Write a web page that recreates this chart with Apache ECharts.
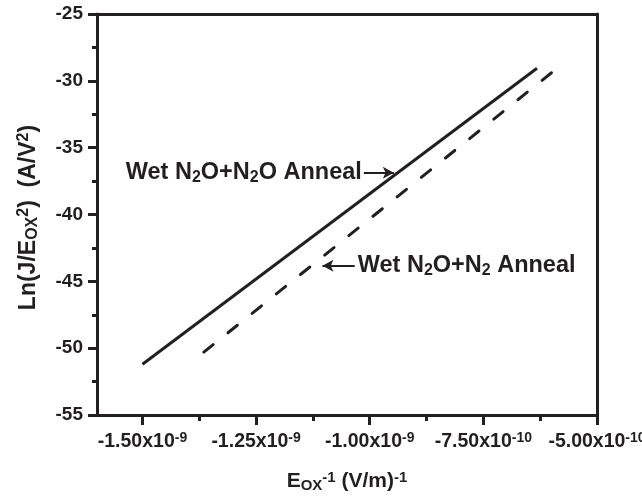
<!DOCTYPE html>
<html>
<head>
<meta charset="utf-8">
<script src="https://cdn.jsdelivr.net/npm/echarts@6/dist/echarts.min.js"></script>
<style>
  html, body { margin: 0; padding: 0; background: #fff; }
  #chart { width: 642px; height: 497px; }
</style>
</head>
<body>
<div id="chart"></div>
<script>
// Fowler-Nordheim plot: Ln(J/Eox^2) versus 1/Eox for two anneal conditions
const seriesNames = ['Wet N2O+N2O Anneal', 'Wet N2O+N2 Anneal'];
const n2oAnnealX = [-1.5e-9, -6.32e-10];
const n2oAnnealY = [-51.2, -29.06];
const n2AnnealX = [-1.365e-9, -5.82e-10];
const n2AnnealY = [-50.3, -28.9];

// axis ticks
const xMajorTicks = [-1.5e-9, -1.25e-9, -1.0e-9, -7.5e-10, -5.0e-10];
const xMinorTicks = [-1.375e-9, -1.125e-9, -8.75e-10, -6.25e-10];
const xTickLabels = [
  '{tick|-1.50x10}{tsup|-9}', '{tick|-1.25x10}{tsup|-9}', '{tick|-1.00x10}{tsup|-9}',
  '{tick|-7.50x10}{tsup|-10}', '{tick|-5.00x10}{tsup|-10}'
];
const yTicks = [-55, -50, -45, -40, -35, -30, -25];

// annotation arrows (tail x, head x, y) in data units
const arrowN2O = [-1.013e-9, -0.947e-9, -36.87];
const arrowN2 = [-1.033e-9, -1.104e-9, -43.83];
const labelN2O = '{big|Wet N}{lsub|2}{big|O+N}{lsub|2}{big|O Anneal}';
const labelN2 = '{big|Wet N}{lsub|2}{big|O+N}{lsub|2}{big| Anneal}';

const ink = '#231f20';
const font = "'Liberation Sans', Arial, Helvetica, sans-serif";

function fragment(size, extra) {
  return Object.assign({ fontSize: size, fontWeight: 'bold', fontFamily: font, color: ink }, extra || {});
}

const rich = {
  tick: fragment(19.5, { lineHeight: 22 }),
  tsup: fragment(14, { verticalAlign: 'top', lineHeight: 14, padding: [0, 0, 8, 0] }),
  base: fragment(21, { lineHeight: 23 }),
  sup: fragment(15, { verticalAlign: 'top', lineHeight: 15, padding: [0, 0, 8, 0] }),
  sub: fragment(15, { verticalAlign: 'bottom', lineHeight: 15, padding: [8, 0, 0, 0] }),
  ybase: fragment(23, { lineHeight: 25 }),
  ysup: fragment(16, { verticalAlign: 'top', lineHeight: 16, padding: [0, 0, 9, 0] }),
  ysub: fragment(16, { verticalAlign: 'bottom', lineHeight: 16, padding: [9, 0, 0, 0] }),
  big: fragment(23.5, { lineHeight: 25 }),
  lsub: fragment(16, { verticalAlign: 'bottom', lineHeight: 16, padding: [10, 0, 0, 0] })
};

function toPairs(xs, ys) { return xs.map((x, i) => [x, ys[i]]); }

const axisLineStyle = { color: ink, width: 3 };
const chart = echarts.init(document.getElementById('chart'), null, { renderer: 'canvas' });

chart.setOption({
  backgroundColor: '#ffffff',
  animation: false,
  grid: { left: 97, right: 45, top: 14, bottom: 82, containLabel: false, outerBoundsMode: 'none' },
  xAxis: [
    {
      type: 'value', min: -1.6e-9, max: -5e-10, position: 'bottom',
      axisLine: { show: true, onZero: false, lineStyle: axisLineStyle },
      axisTick: { show: true, customValues: xMajorTicks, length: 10, inside: false, lineStyle: { color: ink, width: 3 } },
      axisLabel: {
        show: true, customValues: xMajorTicks, margin: 16,
        color: ink, fontSize: 19.5, fontWeight: 'bold', fontFamily: font,
        formatter: function (v) {
          let best = 0;
          xMajorTicks.forEach((t, i) => { if (Math.abs(t - v) < Math.abs(xMajorTicks[best] - v)) best = i; });
          return xTickLabels[best];
        },
        rich: rich
      },
      splitLine: { show: false },
      name: '{base|E}{sub|OX}{sup|-1}{base| (V/m)}{sup|-1}',
      nameLocation: 'middle', nameGap: 55,
      nameTextStyle: { rich: rich }
    },
    {
      type: 'value', min: -1.6e-9, max: -5e-10, position: 'bottom',
      axisLine: { show: false },
      axisTick: { show: true, customValues: xMinorTicks, length: 6, lineStyle: { color: ink, width: 3 } },
      axisLabel: { show: false },
      splitLine: { show: false }
    },
    {
      type: 'value', min: -1.6e-9, max: -5e-10, position: 'top',
      axisLine: { show: true, onZero: false, lineStyle: axisLineStyle },
      axisTick: { show: false }, axisLabel: { show: false }, splitLine: { show: false }
    }
  ],
  yAxis: [
    {
      type: 'value', min: yTicks[0], max: yTicks[yTicks.length - 1], interval: 5, position: 'left',
      axisLine: { show: true, onZero: false, lineStyle: axisLineStyle },
      axisTick: { show: true, length: 9, lineStyle: { color: ink, width: 3 } },
      minorTick: { show: true, splitNumber: 2, length: 5, lineStyle: { color: ink, width: 3 } },
      axisLabel: { color: ink, fontSize: 19, fontWeight: 'bold', fontFamily: font, margin: 14 },
      splitLine: { show: false },
      name: '{ybase|Ln(J/E}{ysub|OX}{ysup|2}{ybase|)  (A/V}{ysup|2}{ybase|)}',
      nameLocation: 'middle', nameGap: 56, nameRotate: 90,
      nameTextStyle: { rich: rich, padding: [0, 6, 0, 0] }
    },
    {
      type: 'value', min: yTicks[0], max: yTicks[yTicks.length - 1], interval: 5, position: 'right',
      axisLine: { show: true, onZero: false, lineStyle: axisLineStyle },
      axisTick: { show: false }, axisLabel: { show: false }, splitLine: { show: false }
    }
  ],
  series: [
    {
      name: seriesNames[0], type: 'line', xAxisIndex: 0, yAxisIndex: 0,
      data: toPairs(n2oAnnealX, n2oAnnealY),
      showSymbol: false, symbol: 'none',
      lineStyle: { color: ink, width: 3, type: 'solid' },
      markLine: {
        silent: true, symbol: ['none', 'arrow'], symbolSize: [9, 11], precision: 14,
        lineStyle: { color: ink, width: 2, type: 'solid' },
        label: { show: true, position: 'start', distance: 2, formatter: labelN2O, rich: rich },
        data: [[{ coord: [arrowN2O[0], arrowN2O[2]] }, { coord: [arrowN2O[1], arrowN2O[2]] }]]
      }
    },
    {
      name: seriesNames[1], type: 'line', xAxisIndex: 0, yAxisIndex: 0,
      data: toPairs(n2AnnealX, n2AnnealY),
      showSymbol: false, symbol: 'none',
      lineStyle: { color: ink, width: 3, type: [12, 19], cap: 'round' },
      markLine: {
        silent: true, symbol: ['none', 'arrow'], symbolSize: [9, 11], precision: 14,
        lineStyle: { color: ink, width: 2, type: 'solid' },
        label: { show: true, position: 'start', distance: 3, formatter: labelN2, rich: rich },
        data: [[{ coord: [arrowN2[0], arrowN2[2]] }, { coord: [arrowN2[1], arrowN2[2]] }]]
      }
    }
  ]
});
</script>
</body>
</html>
